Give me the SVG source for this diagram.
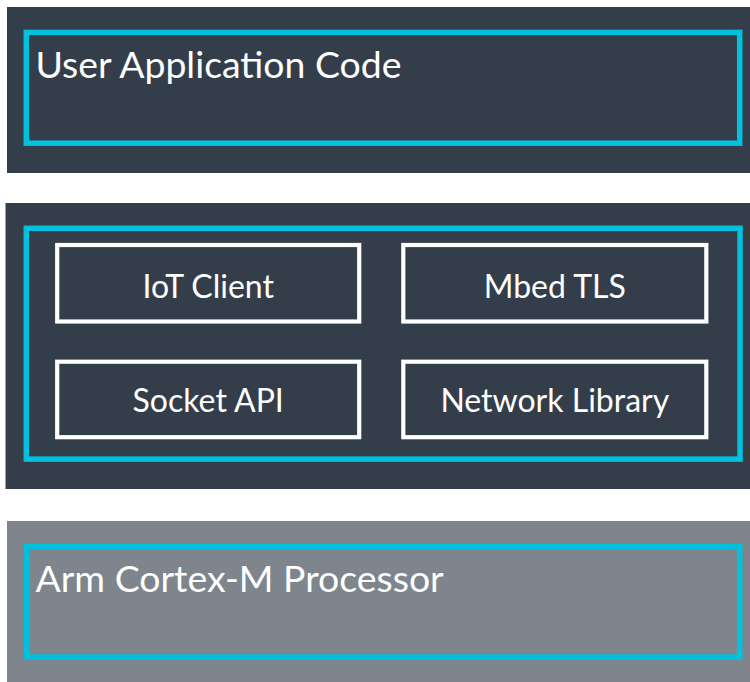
<svg xmlns="http://www.w3.org/2000/svg" width="750" height="682" viewBox="0 0 750 682">
<style>
.dark{fill:#343e4a}
.gray{fill:#7e858c}
.cyan{fill:none;stroke:#00c1de;stroke-width:5.5}
.box{fill:none;stroke:#ffffff;stroke-width:4.2}
.title{font-family:Lato,"Liberation Sans",sans-serif;font-size:37.4px;fill:#ffffff}
.lbl{font-family:Lato,"Liberation Sans",sans-serif;font-size:32px;fill:#ffffff;text-anchor:middle}
</style>
<rect width="750" height="682" fill="#ffffff"/>
<g id="user-app">
<rect class="dark" x="7" y="7" width="743" height="166"/>
<rect class="cyan" x="26.3" y="32.4" width="713.4" height="110.8"/>
<text class="title" x="35.5" y="77.5">User Application Code</text>
</g>
<g id="middleware">
<rect class="dark" x="5.5" y="203" width="744.5" height="286"/>
<rect class="cyan" x="26.3" y="228.3" width="713.7" height="230.8"/>
</g>
<g id="iot-client">
<rect class="box" x="57.2" y="245" width="302" height="76.5"/>
<text class="lbl" x="208.2" y="297.5">IoT Client</text>
</g>
<g id="mbed-tls">
<rect class="box" x="403.3" y="245" width="303" height="76.5"/>
<text class="lbl" x="554.8" y="297.5">Mbed TLS</text>
</g>
<g id="socket-api">
<rect class="box" x="57.2" y="361.7" width="302" height="75.5"/>
<text class="lbl" x="208.2" y="412.3">Socket API</text>
</g>
<g id="network-library">
<rect class="box" x="403.3" y="361.7" width="303" height="75.5"/>
<text class="lbl" x="554.8" y="412.3">Network Library</text>
</g>
<g id="processor">
<rect class="gray" x="7" y="521" width="743" height="161"/>
<rect class="cyan" x="26.7" y="546.7" width="713" height="110.3"/>
<text class="title" x="35.5" y="591.7">Arm Cortex-M Processor</text>
</g>
<g id="connectors"></g>
</svg>
